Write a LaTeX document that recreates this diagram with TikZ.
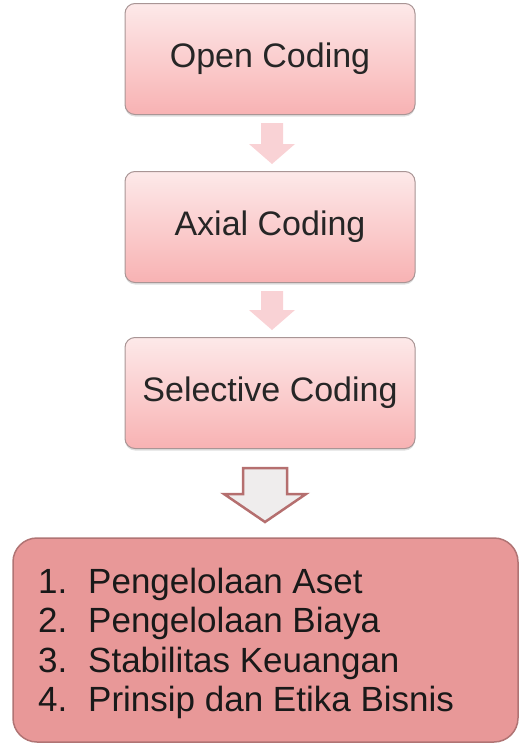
\documentclass[tikz,border=0pt]{standalone}
\usepackage{fontspec}
\setmainfont{Liberation Sans}
\usetikzlibrary{shadows,calc}
\definecolor{boxtop}{HTML}{FDE9E9}
\definecolor{boxbot}{HTML}{F8B2B3}
\definecolor{boxline}{HTML}{A99595}
\definecolor{smallarrow}{HTML}{F9D2D5}
\definecolor{bigfill}{HTML}{EFEDED}
\definecolor{bigline}{HTML}{B56F6F}
\definecolor{listfill}{HTML}{E89898}
\definecolor{listline}{HTML}{B07474}
\tikzset{
  stepbox/.style={rectangle, rounded corners=10pt, draw=boxline, line width=1pt,
    top color=boxtop, bottom color=boxbot, minimum width=290pt, minimum height=111pt,
    font=\fontsize{34}{40}\selectfont, text=black!85,
    drop shadow={shadow xshift=0pt, shadow yshift=-2pt, opacity=0.25}},
  listbox/.style={rectangle, rounded corners=24pt, draw=listline, line width=1.5pt,
    fill=listfill},
  listnum/.style={anchor=base west, font=\fontsize{35}{40}\selectfont, text=black!90, inner sep=0pt},
  listitem/.style={anchor=base west, font=\fontsize{35}{40}\selectfont, text=black!90, inner sep=0pt},
}
\begin{document}
\begin{tikzpicture}[x=1pt,y=-1pt]
\useasboundingbox (0,0) rectangle (520,744);
\node[stepbox] (open) at (270,59) {Open Coding};
\node[stepbox] (axial) at (270,227) {Axial Coding};
\node[stepbox] (selective) at (270,393) {Selective Coding};

% small block arrows between the steps
\foreach \a/\b in {open/axial, axial/selective} {
  \path ($(\a.south)+(2,8)$) coordinate (t) ($(\b.north)+(2,-7)$) coordinate (h);
  \fill[smallarrow] ($(t)+(-11,0)$) -- ($(t)+(11,0)$) -- ($(h)+(11,-20)$) -- ($(h)+(23,-20)$)
    -- (h) -- ($(h)+(-23,-20)$) -- ($(h)+(-11,-20)$) -- cycle;
}

% result list
\draw[listbox] (13,538) rectangle (518,742);
\foreach \n/\t/\y in {1/Pengelolaan Aset/593, 2/Pengelolaan Biaya/632,
                      3/Stabilitas Keuangan/672, 4/Prinsip dan Etika Bisnis/711} {
  \node[listnum] (n\n) at (38,\y) {\n.};
  \node[listitem] (i\n) at (88,\y) {\t};
}
\coordinate (list) at (265,538);

% large outlined arrow into the list
\path (265,468) coordinate (bt) (265,522) coordinate (bh);
\draw[bigline, fill=bigfill, line width=2.5pt, line join=miter]
  ($(bt)+(-22,0)$) -- ($(bt)+(22,0)$) -- ($(bh)+(22,-28)$) -- ($(bh)+(41,-28)$)
  -- (bh) -- ($(bh)+(-41,-28)$) -- ($(bh)+(-22,-28)$) -- cycle;
\end{tikzpicture}
\end{document}
